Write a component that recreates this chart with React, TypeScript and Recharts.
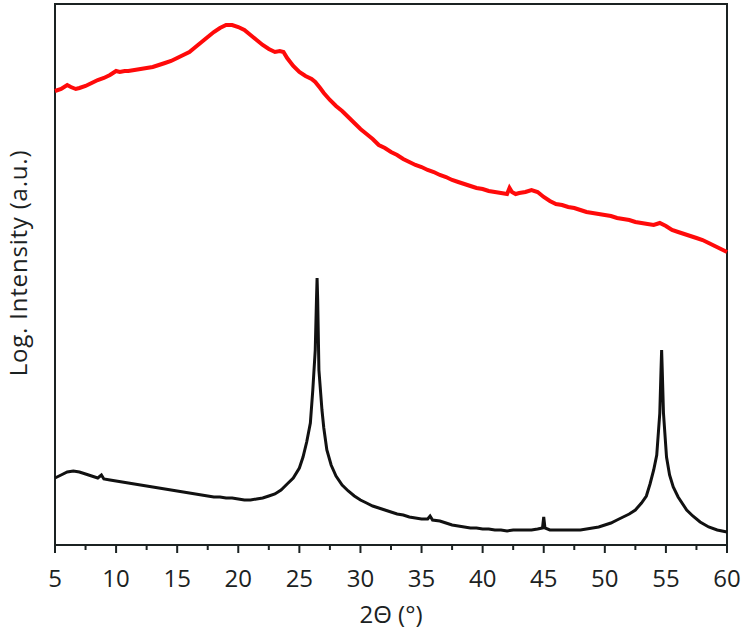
import React from 'react';
import { LineChart, Line, XAxis, YAxis, ReferenceArea, Label } from 'recharts';

// 2θ positions (deg) and log intensity (a.u.)
const redTheta = [
  5, 5.5, 6, 6.3, 6.7, 7, 7.5, 8, 8.5, 9, 9.5, 10, 10.3, 10.7, 11, 11.5, 12, 12.5, 13, 13.5,
  14, 14.5, 15, 15.5, 16, 16.5, 17, 17.5, 18, 18.5, 19, 19.5, 20, 20.5, 21, 21.5, 22, 22.5, 23, 23.4,
  23.7, 24, 24.5, 25, 25.5, 26, 26.3, 26.7, 27, 27.5, 28, 28.5, 29, 29.5, 30, 30.5, 31, 31.5, 32, 32.5,
  33, 33.5, 34, 34.5, 35, 35.5, 36, 36.5, 37, 37.5, 38, 38.5, 39, 39.5, 40, 40.5, 41, 41.5, 42, 42.2,
  42.4, 42.7, 43, 43.5, 44, 44.5, 45, 45.5, 46, 46.5, 47, 47.5, 48, 48.5, 49, 49.5, 50, 50.5, 51, 51.5,
  52, 52.5, 53, 53.5, 54, 54.5, 55, 55.5, 56, 56.5, 57, 57.5, 58, 58.5, 59, 59.5, 60,
];
const redIntensity = [
  454, 456, 460, 458, 456, 457, 459, 462, 465, 467, 470, 474, 473, 474, 474, 475, 476, 477, 478, 480,
  482, 484, 487, 490, 493, 498, 503, 508, 513, 517, 520, 520, 518, 515, 510, 505, 500, 496, 493, 494,
  493, 487, 479, 473, 469, 466, 463, 457, 452, 445, 439, 434, 428, 422, 416, 411, 406, 400, 397, 393,
  390, 386, 383, 380, 378, 375, 373, 370, 368, 365, 363, 361, 359, 357, 356, 354, 353, 352, 351, 357,
  353, 351, 352, 353, 355, 353, 348, 344, 341, 340, 338, 337, 335, 333, 332, 331, 330, 329, 327, 326,
  325, 323, 322, 321, 320, 322, 319, 315, 313, 311, 309, 307, 305, 302, 299, 296, 293,
];

const blackTheta = [
  5, 5.5, 6, 6.5, 7, 7.5, 8, 8.5, 8.8, 9, 9.5, 10, 10.5, 11, 11.5, 12, 12.5, 13, 13.5, 14,
  14.5, 15, 15.5, 16, 16.5, 17, 17.5, 18, 18.5, 19, 19.5, 20, 20.5, 21, 21.5, 22, 22.5, 23, 23.5, 24,
  24.5, 25, 25.3, 25.6, 25.9, 26.1, 26.3, 26.4, 26.45, 26.5, 26.6, 26.85, 27, 27.25, 27.6, 28, 28.5, 29, 29.5, 30,
  30.5, 31, 31.5, 32, 32.5, 33, 33.5, 34, 34.5, 35, 35.5, 35.7, 35.9, 36.5, 37, 37.5, 38, 38.5, 39, 39.5,
  40, 40.5, 41, 41.5, 42, 42.5, 43, 43.5, 44, 44.5, 44.9, 45, 45.1, 45.5, 46, 46.5, 47, 47.5, 48, 48.5,
  49, 49.5, 50, 50.5, 51, 51.5, 52, 52.5, 53, 53.4, 53.7, 54, 54.25, 54.5, 54.6, 54.65, 54.7, 54.8, 55.05, 55.3,
  55.6, 56, 56.7, 57.2, 57.8, 58.5, 59.2, 60,
];
const blackIntensity = [
  67, 70, 73, 74, 73, 71, 69, 67, 70, 66, 65, 64, 63, 62, 61, 60, 59, 58, 57, 56,
  55, 54, 53, 52, 51, 50, 49, 48, 48, 47, 47, 46, 45, 45, 46, 47, 49, 51, 55, 61,
  67, 77, 88, 103, 122, 155, 195, 245, 267, 245, 175, 135, 117, 95, 80, 69, 60, 54, 49, 45,
  42, 39, 37, 35, 33, 31, 30, 28, 27, 26, 26, 29, 25, 24, 22, 20, 19, 18, 17, 17,
  16, 16, 15, 15, 14, 15, 15, 15, 15, 16, 17, 28, 17, 15, 15, 15, 15, 15, 15, 16,
  17, 18, 20, 22, 25, 28, 31, 35, 42, 49, 61, 75, 90, 132, 175, 195, 175, 132, 88, 70,
  58, 48, 35, 29, 23, 18, 15, 13,
];

const xTicks = [5, 7.5, 10, 12.5, 15, 17.5, 20, 22.5, 25, 27.5, 30, 32.5, 35, 37.5, 40, 42.5, 45, 47.5, 50, 52.5, 55, 57.5, 60];

const redData = redTheta.map((x, i) => ({ x, y: redIntensity[i] }));
const blackData = blackTheta.map((x, i) => ({ x, y: blackIntensity[i] }));

const axisColor = '#1b2222';
const font = '"Open Sans", sans-serif';

const XTick = (props: any) => {
  const { x, y, payload } = props;
  const major = payload.value % 5 === 0;
  return (
    <g>
      <line x1={x} x2={x} y1={y} y2={y + (major ? 8 : 5)} stroke={axisColor} strokeWidth={2} />
      {major && (
        <text x={x} y={y + 42} textAnchor="middle" fill={axisColor} fontSize={24} fontFamily={font}>
          {payload.value}
        </text>
      )}
    </g>
  );
};

// rotated y title, placed like the original figure
const YTitle = () => (
  <text transform="translate(27,263) rotate(-90)" textAnchor="middle" fill={axisColor} fontSize={24}
    fontFamily={font} letterSpacing={0.8}>
    Log. Intensity (a.u.)
  </text>
);

export default function App() {
  return (
    <div style={{ position: 'absolute', left: 0, top: 0, width: 744, height: 634, background: '#fff' }}>
      <LineChart width={744} height={634} margin={{ top: 4, right: 17, bottom: 0, left: 0 }}>
        <XAxis
          dataKey="x" type="number" domain={[5, 60]} ticks={xTicks} interval={0}
          height={89} axisLine={false} tickLine={false} tickSize={0} tickMargin={0}
          tick={<XTick />}
          label={{ value: '2Θ (°)', position: 'insideBottom', offset: 11, fill: axisColor, fontSize: 24, fontFamily: font }}
        />
        <YAxis type="number" domain={[0, 541]} width={55} tick={false} axisLine={false} tickLine={false}>
          <Label content={<YTitle />} />
        </YAxis>
        <ReferenceArea x1={5} x2={60} y1={0} y2={541} fill="none" stroke={axisColor} strokeWidth={2} ifOverflow="visible" />
        <Line data={redData} dataKey="y" type="linear" stroke="#ff0a0a" strokeWidth={4} dot={false} isAnimationActive={false} />
        <Line data={blackData} dataKey="y" type="linear" stroke="#111111" strokeWidth={3} dot={false} isAnimationActive={false} />
      </LineChart>
    </div>
  );
}
